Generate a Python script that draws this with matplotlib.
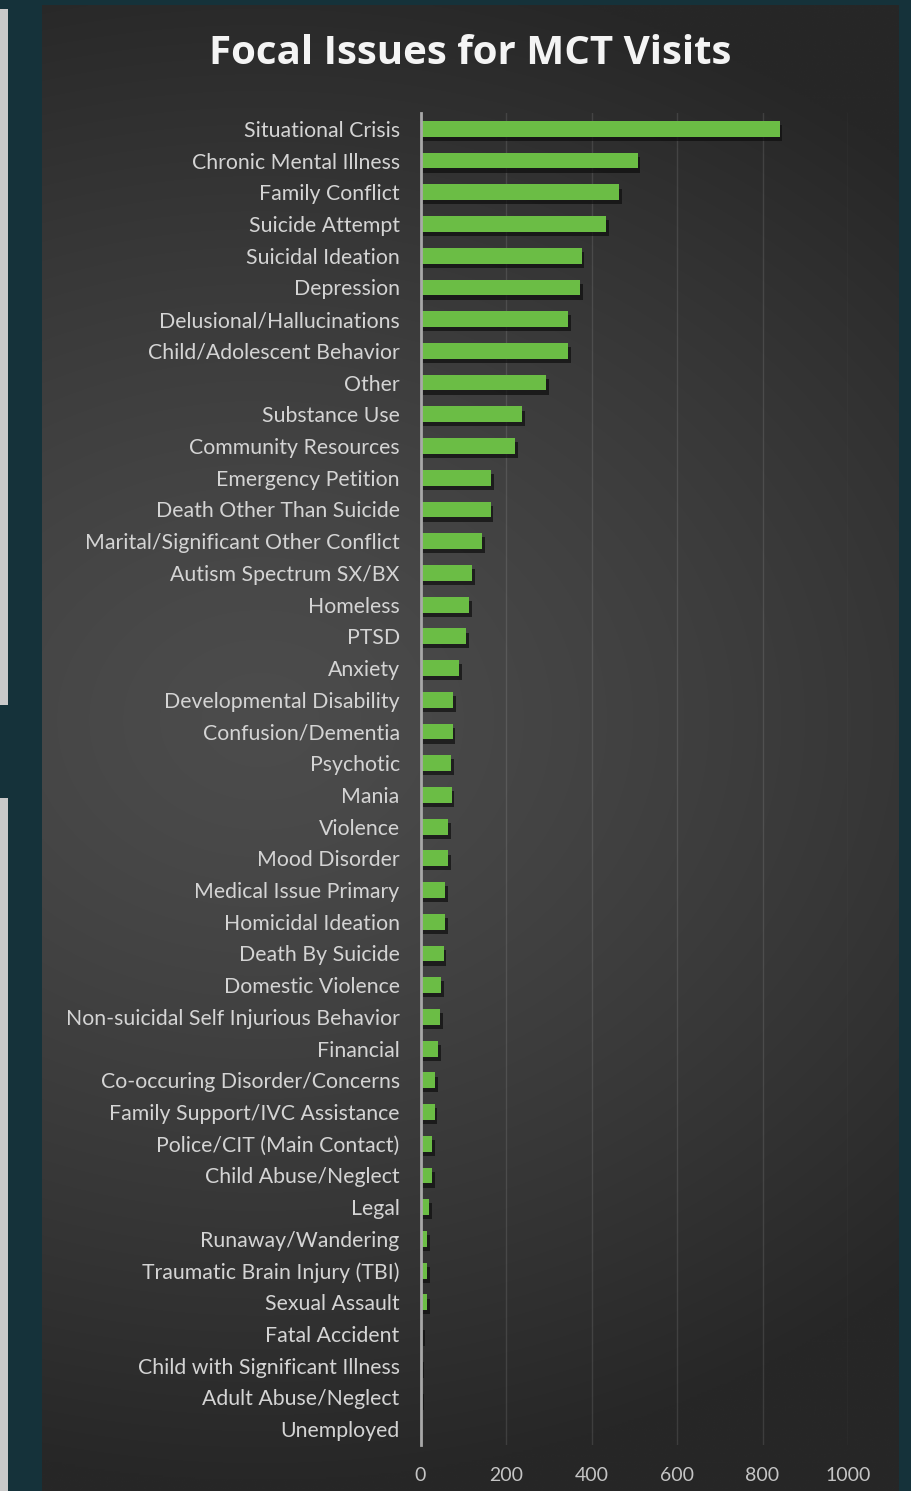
import numpy as np
import matplotlib
matplotlib.use("Agg")
import matplotlib.pyplot as plt
from matplotlib import patheffects as pe
from matplotlib import font_manager as fm
from matplotlib.patches import Rectangle

# Focal issues and number of MCT visits for each
categories = [
    "Situational Crisis", "Chronic Mental Illness", "Family Conflict",
    "Suicide Attempt", "Suicidal Ideation", "Depression",
    "Delusional/Hallucinations", "Child/Adolescent Behavior", "Other",
    "Substance Use", "Community Resources", "Emergency Petition",
    "Death Other Than Suicide", "Marital/Significant Other Conflict",
    "Autism Spectrum SX/BX", "Homeless", "PTSD", "Anxiety",
    "Developmental Disability", "Confusion/Dementia", "Psychotic", "Mania",
    "Violence", "Mood Disorder", "Medical Issue Primary",
    "Homicidal Ideation", "Death By Suicide", "Domestic Violence",
    "Non-suicidal Self Injurious Behavior", "Financial",
    "Co-occuring Disorder/Concerns", "Family Support/IVC Assistance",
    "Police/CIT (Main Contact)", "Child Abuse/Neglect", "Legal",
    "Runaway/Wandering", "Traumatic Brain Injury (TBI)", "Sexual Assault",
    "Fatal Accident", "Child with Significant Illness", "Adult Abuse/Neglect",
    "Unemployed",
]
visits = [
    840, 508, 465, 434, 377, 374, 346, 345, 294, 238, 221, 165,
    164, 145, 121, 114, 106, 90, 77, 75, 72, 73, 65, 65, 58,
    57, 54, 48, 45, 41, 34, 33, 28, 28, 21, 16, 15, 15,
    4, 1, 1, 0,
]
x_ticks = [0, 200, 400, 600, 800, 1000]
chart_title = "Focal Issues for MCT Visits"

installed = {f.name for f in fm.fontManager.ttflist}
label_font = "Lato" if "Lato" in installed else "DejaVu Sans"
title_font = "Open Sans" if "Open Sans" in installed else "DejaVu Sans"

W, H = 911, 1491
fig = plt.figure(figsize=(W / 100, H / 100), dpi=100, facecolor="#15323a")

# light side strips at the far left
fig.add_artist(Rectangle((0, 1 - 705 / H), 8 / W, (705 - 9) / H,
                         transform=fig.transFigure, color="#c9c9c9", lw=0))
fig.add_artist(Rectangle((0, 0), 8 / W, (H - 798) / H,
                         transform=fig.transFigure, color="#c9c9c9", lw=0))

# dark panel with a soft radial glow
px0, px1, py0, py1 = 42, 899, 5, H
pan = fig.add_axes([px0 / W, 0, (px1 - px0) / W, (py1 - py0) / H])
gx = np.linspace(px0, px1, 400)
gy = np.linspace(py0, py1, 700)
XX, YY = np.meshgrid(gx, gy)
d = np.sqrt(((XX - 260) / 950) ** 2 + ((YY - 720) / 760) ** 2)
d = np.clip(d, 0, 1)
lev = 0x4c / 255 - (0x4c - 0x27) / 255 * d ** 1.3
img = np.dstack([lev, lev, lev])
pan.imshow(img, aspect="auto", extent=(0, 1, 0, 1), interpolation="bilinear")
pan.set_xlim(0, 1)
pan.set_ylim(0, 1)
pan.axis("off")

# bar chart
ax = fig.add_axes([420.5 / W, 1 - 1445 / H, (848 - 420.5) / W, (1445 - 113) / H])
ax.set_facecolor("none")
ypos = np.arange(len(categories))
ax.barh(ypos, visits, height=0.5, color="#6bbd45", zorder=3,
        path_effects=[pe.SimplePatchShadow(offset=(2, -3), shadow_rgbFace="#0e0e0e", alpha=0.7),
                      pe.Normal()])
ax.set_xlim(0, 1000)
ax.set_ylim(len(categories) - 0.5, -0.5)
ax.set_xticks(x_ticks)
ax.set_yticks(ypos, categories)
ax.xaxis.grid(True, color="white", alpha=0.11, lw=1)
ax.set_axisbelow(True)
for s in ("top", "right", "bottom"):
    ax.spines[s].set_visible(False)
ax.spines["left"].set_color("#a8a8a8")
ax.spines["left"].set_linewidth(2)
ax.spines["left"].set_zorder(4)
ax.tick_params(axis="x", length=0, pad=16, colors="#c4c4c4", labelsize=14)
ax.tick_params(axis="y", length=0, pad=15, colors="#d4d4d4", labelsize=15.3)
for t in ax.get_yticklabels() + ax.get_xticklabels():
    t.set_fontfamily(label_font)

fig.text(470.5 / W, 1 - 53 / H, chart_title, ha="center", va="center",
         color="#f4f4f4", fontsize=29, fontweight="bold", family=title_font)

fig.savefig("out.png", dpi=100, facecolor=fig.get_facecolor())
